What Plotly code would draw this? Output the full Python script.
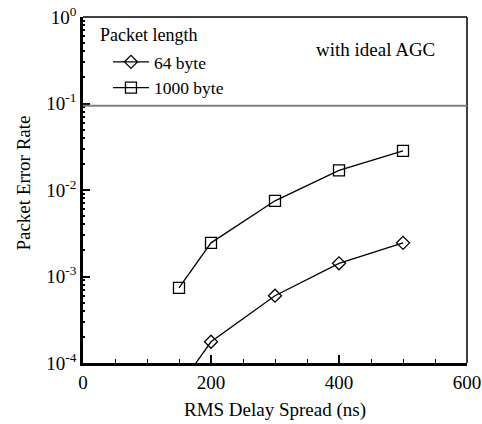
import plotly.graph_objects as go

delay = [150, 200, 300, 400, 500]
per_64 = [5.3e-5, 1.76e-4, 6.0e-4, 1.42e-3, 2.45e-3]
per_1000 = [7.4e-4, 2.45e-3, 7.5e-3, 1.69e-2, 2.83e-2]
y_ticks = [1e-4, 1e-3, 1e-2, 1e-1, 1]
y_ticktext = ["10<sup>-4</sup>", "10<sup>-3</sup>", "10<sup>-2</sup>", "10<sup>-1</sup>", "10<sup>0</sup>"]
x_ticks = [0, 200, 400, 600]
ref_level = 0.094

FONT = "Liberation Serif"
FS = 19
LFS = 17

fig = go.Figure()
fig.add_trace(go.Scatter(
    x=delay, y=per_64, mode="lines+markers", name="64 byte",
    line=dict(color="black", width=1.3),
    marker=dict(symbol="diamond-open", size=10, color="black", line=dict(width=1.3)),
))
fig.add_trace(go.Scatter(
    x=delay, y=per_1000, mode="lines+markers", name="1000 byte",
    line=dict(color="black", width=1.3),
    marker=dict(symbol="square-open", size=11, color="black", line=dict(width=1.3)),
))

minor_y = [m * 10 ** e for e in range(-4, 0) for m in range(2, 10)]

fig.update_layout(
    width=482, height=424,
    margin=dict(l=83, r=15, t=17, b=61, autoexpand=False),
    paper_bgcolor="white", plot_bgcolor="white",
    font=dict(family=FONT, size=FS, color="black"),
    showlegend=True,
    legend=dict(
        x=0.065, y=0.922, xanchor="left", yanchor="top",
        bgcolor="rgba(0,0,0,0)", font=dict(family=FONT, size=LFS + 0.5),
        itemwidth=36, tracegroupgap=0,
    ),
    xaxis=dict(
        range=[0, 600], tickvals=x_ticks, ticks="inside", ticklen=8, tickwidth=1.5,
        tickcolor="black", showline=True, linewidth=2.5, linecolor="black",
        showgrid=False, zeroline=False, mirror=False, automargin=False,
        minor=dict(dtick=50, tick0=0, ticks="inside", ticklen=4, tickwidth=1.2, tickcolor="black", showgrid=False),
        title=dict(text="RMS Delay Spread (ns)", font=dict(family=FONT, size=FS), standoff=12),
        tickfont=dict(family=FONT, size=FS),
    ),
    yaxis=dict(
        type="log", range=[-4, 0], tickvals=y_ticks, ticktext=y_ticktext,
        ticks="inside", ticklen=7, tickwidth=1.5, tickcolor="black",
        showline=True, linewidth=2.5, linecolor="black", showgrid=False, zeroline=False, mirror=False,
        automargin=False,
        minor=dict(tickvals=minor_y, ticks="inside", ticklen=2, tickwidth=1.5, tickcolor="black", showgrid=False),
        tickfont=dict(family=FONT, size=FS),
    ),
)

fig.add_shape(type="line", xref="paper", yref="paper", x0=0, x1=1, y0=1, y1=1,
              line=dict(color="black", width=1.5))
fig.add_shape(type="line", xref="paper", yref="paper", x0=1, x1=1, y0=0, y1=1,
              line=dict(color="black", width=1.5))
fig.add_shape(type="line", xref="paper", yref="y", x0=0, x1=1, y0=ref_level, y1=ref_level,
              line=dict(color="#808080", width=2))

fig.add_annotation(text="Packet Error Rate", xref="paper", yref="paper", x=-0.155, y=0.52,
                   textangle=-90, xanchor="center", yanchor="middle", showarrow=False,
                   font=dict(family=FONT, size=FS))
fig.add_annotation(text="Packet length", xref="paper", yref="paper", x=0.039, y=0.948,
                   xanchor="left", yanchor="middle", showarrow=False,
                   font=dict(family=FONT, size=LFS + 1))
fig.add_annotation(text="with ideal AGC", xref="paper", yref="paper", x=0.923, y=0.905,
                   xanchor="right", yanchor="middle", showarrow=False,
                   font=dict(family=FONT, size=FS))

fig.write_html("out.html")
